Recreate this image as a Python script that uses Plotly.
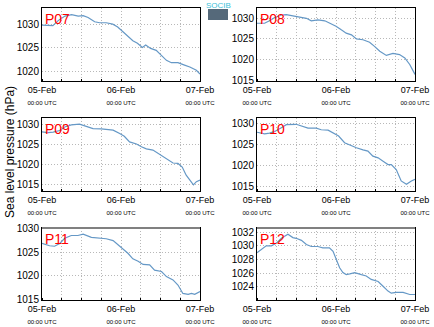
import pandas as pd
import plotly.graph_objects as go

base = pd.Timestamp("2013-02-05 00:00")

# hours since 05-Feb 00:00 UTC and sea level pressure (hPa) for each station
p07_h = [0, 3.3, 5, 7, 9, 11, 12.5, 14, 16, 17.5, 19.5, 21.5, 23, 24.6, 26, 27.6, 29, 30.5, 31.5, 33, 34.7, 36.3, 37.8, 39.3, 41.3, 43.3, 44.9, 46.9, 48]
p07_p = [1029.8, 1029.7, 1030.8, 1031.7, 1032.0, 1031.7, 1031.8, 1031.4, 1030.5, 1030.3, 1030.3, 1030.0, 1029.4, 1028.4, 1027.4, 1026.5, 1026.0, 1025.1, 1025.6, 1024.9, 1024.5, 1023.5, 1022.4, 1021.9, 1021.9, 1021.4, 1021.0, 1020.3, 1019.5]

p08_h = [0, 2.3, 3.8, 5.4, 7.4, 8.9, 10.9, 13.5, 15, 16.5, 18.5, 20.6, 22, 24, 25.6, 27.1, 28.7, 30.2, 32.2, 34.2, 35.7, 37.3, 39.3, 41.3, 43.3, 44.9, 46.4, 48]
p08_p = [1028.8, 1028.8, 1029.4, 1030.2, 1030.8, 1030.9, 1030.6, 1030.2, 1030.0, 1029.4, 1029.6, 1029.4, 1028.8, 1028.1, 1027.2, 1026.4, 1026.0, 1025.0, 1024.8, 1024.2, 1023.2, 1022.0, 1021.0, 1021.5, 1021.2, 1020.4, 1018.8, 1016.4]

p09_h = [0, 1.8, 3.4, 5.4, 6.9, 8.9, 11.4, 13.5, 15.5, 18, 19.5, 21.6, 23.6, 25, 26.6, 28.7, 30.2, 31.7, 33.7, 35.2, 36.8, 38.3, 39.8, 41.3, 42.6, 43.8, 45, 46, 46.9, 48]
p09_p = [1028.1, 1027.9, 1028.0, 1028.4, 1029.3, 1029.8, 1030.0, 1029.5, 1028.9, 1028.8, 1028.6, 1028.5, 1027.7, 1027.0, 1025.6, 1025.1, 1024.4, 1023.9, 1023.6, 1022.8, 1022.0, 1021.1, 1020.4, 1020.3, 1019.4, 1017.4, 1016.2, 1015.0, 1015.8, 1016.2]

p10_h = [0, 2.3, 3.8, 5.4, 7.4, 8.9, 11.9, 13.5, 15.5, 18, 19.5, 21.6, 23.6, 24.8, 26.6, 28.2, 30.2, 32.2, 33.7, 35.2, 36.8, 38.3, 39.8, 40.8, 42.3, 43.8, 45.4, 46.9, 48]
p10_p = [1028.0, 1027.6, 1027.8, 1028.2, 1029.1, 1029.8, 1029.9, 1029.5, 1029.0, 1029.0, 1028.6, 1028.5, 1027.6, 1027.1, 1025.5, 1024.9, 1024.3, 1023.8, 1023.5, 1022.3, 1021.9, 1021.1, 1020.3, 1020.3, 1019.1, 1016.4, 1015.6, 1016.4, 1016.8]

p11_h = [0, 2.3, 3.8, 5.4, 6.9, 8.9, 10.9, 12.5, 15, 17.5, 19.5, 21.6, 23.1, 24.6, 26.1, 27.6, 29.2, 30.7, 32.7, 34.2, 36.3, 37.8, 39.8, 41.3, 42.8, 44.4, 45.4, 46.4, 48]
p11_p = [1026.9, 1026.4, 1026.3, 1026.9, 1028.0, 1028.6, 1028.6, 1028.9, 1028.2, 1028.1, 1027.9, 1027.5, 1026.6, 1025.7, 1024.8, 1023.6, 1023.1, 1022.4, 1022.3, 1021.2, 1020.9, 1019.8, 1019.1, 1018.0, 1016.2, 1016.0, 1016.2, 1016.0, 1016.6]

p12_h = [0, 1.3, 2.8, 4.4, 5.9, 7.4, 8.9, 9.4, 10.9, 11.9, 13.5, 15, 16.5, 18.5, 20, 22, 23.1, 24.1, 25.1, 26.1, 27.1, 28.2, 29.7, 31.7, 33.2, 34.7, 36.8, 38.3, 39.8, 40.8, 42.3, 44.4, 45.4, 46.4, 48]
p12_p = [1029.0, 1029.5, 1030.0, 1030.0, 1030.4, 1031.1, 1031.6, 1031.7, 1031.2, 1031.1, 1030.8, 1030.2, 1029.9, 1029.9, 1029.7, 1029.7, 1029.2, 1028.0, 1026.8, 1026.1, 1025.8, 1025.9, 1026.1, 1025.8, 1025.6, 1025.1, 1024.8, 1024.1, 1023.4, 1023.1, 1023.2, 1023.2, 1023.1, 1022.9, 1022.9]

stations = ["P07", "P08", "P09", "P10", "P11", "P12"]
series_h = [p07_h, p08_h, p09_h, p10_h, p11_h, p12_h]
series_p = [p07_p, p08_p, p09_p, p10_p, p11_p, p12_p]
y_ranges = [[1018.05, 1033.4], [1014.8, 1032.5], [1013.5, 1031.5], [1014.0, 1031.4], [1014.8, 1030.2], [1022.1, 1032.6]]
y_dticks = [5, 5, 5, 5, 5, 2]
x_tick_dates = ["2013-02-05", "2013-02-06", "2013-02-07"]
x_tick_days = ["05-Feb", "06-Feb", "07-Feb"]
y_title = "Sea level pressure (hPa)"

W, H = 434, 327
x_doms = [[42 / W, 200 / W], [257 / W, 415 / W]]
y_doms = [[1 - 81 / H, 1 - 8 / H], [1 - 191 / H, 1 - 118 / H], [1 - 300 / H, 1 - 228 / H]]

fig = go.Figure()
line_color = "#6598c6"
grid_color = "#b8b8b8"
grid_dash = "1px,2px"
font_family = "Liberation Sans, Arial, sans-serif"
ticktext = [f"{d}<br><span style='font-size:6px'>00:00 UTC</span>" for d in x_tick_days]

for i, (name, hh, pp) in enumerate(zip(stations, series_h, series_p)):
    n = "" if i == 0 else str(i + 1)
    xs = [base + pd.Timedelta(hours=h) for h in hh]
    fig.add_trace(go.Scatter(x=xs, y=pp, mode="lines", line=dict(color=line_color, width=1.2),
                             xaxis="x" + n, yaxis="y" + n, showlegend=False))
    col, row = i % 2, i // 2
    fig.layout["xaxis" + n] = dict(
        domain=x_doms[col], anchor="y" + n, type="date", automargin=False,
        range=[base, base + pd.Timedelta(hours=48)],
        tickmode="array", tickvals=x_tick_dates, ticktext=ticktext,
        showline=True, linecolor="black", linewidth=1, mirror=True,
        ticks="", showgrid=True, gridcolor=grid_color, griddash=grid_dash, gridwidth=1,
        minor=dict(dtick=6 * 3600 * 1000, showgrid=True, gridcolor=grid_color, griddash=grid_dash,
                   ticks="inside", ticklen=2, tickcolor="black"),
        tickfont=dict(size=9, color="black", family=font_family), zeroline=False,
    )
    fig.layout["yaxis" + n] = dict(
        domain=y_doms[row], anchor="x" + n, range=y_ranges[i], dtick=y_dticks[i], automargin=False,
        showline=True, linecolor="black", linewidth=1, mirror=True,
        ticks="", showgrid=True, gridcolor=grid_color, griddash=grid_dash, gridwidth=1,
        tickfont=dict(size=10, color="black", family=font_family), zeroline=False,
    )
    fig.add_annotation(x=x_doms[col][0] + 1 / W, y=y_doms[row][1] - 1 / H, xref="paper", yref="paper",
                       text=name, showarrow=False, xanchor="left", yanchor="top",
                       font=dict(size=14, color="red", family=font_family))

# grey thicker top edge on bottom row panels
for n in ["5", "6"]:
    fig.add_shape(type="line", xref=f"x{n} domain", yref=f"y{n} domain", x0=0, x1=1, y0=1, y1=1,
                  line=dict(color="#808080", width=2))

fig.add_annotation(x=10 / W, y=1 - 152 / H, xref="paper", yref="paper", text=y_title,
                   xanchor="center", yanchor="middle",
                   textangle=-90, showarrow=False, font=dict(size=12, color="black", family=font_family))

# logo
fig.add_shape(type="rect", xref="paper", yref="paper", x0=208 / W, x1=228 / W, y0=1 - 20 / H, y1=1 - 9 / H,
              fillcolor="#55697a", line=dict(width=0))
fig.add_annotation(x=218 / W, y=1 + 1 / H, xref="paper", yref="paper", text="SOCIB", showarrow=False,
                   xanchor="center", yanchor="top", font=dict(size=8, color="#3cc0d8", family=font_family))

fig.update_layout(width=W, height=H, margin=dict(l=0, r=0, t=0, b=0, autoexpand=False),
                  paper_bgcolor="white", plot_bgcolor="white",
                  font=dict(family=font_family, color="black"))
fig.write_html("out.html")
